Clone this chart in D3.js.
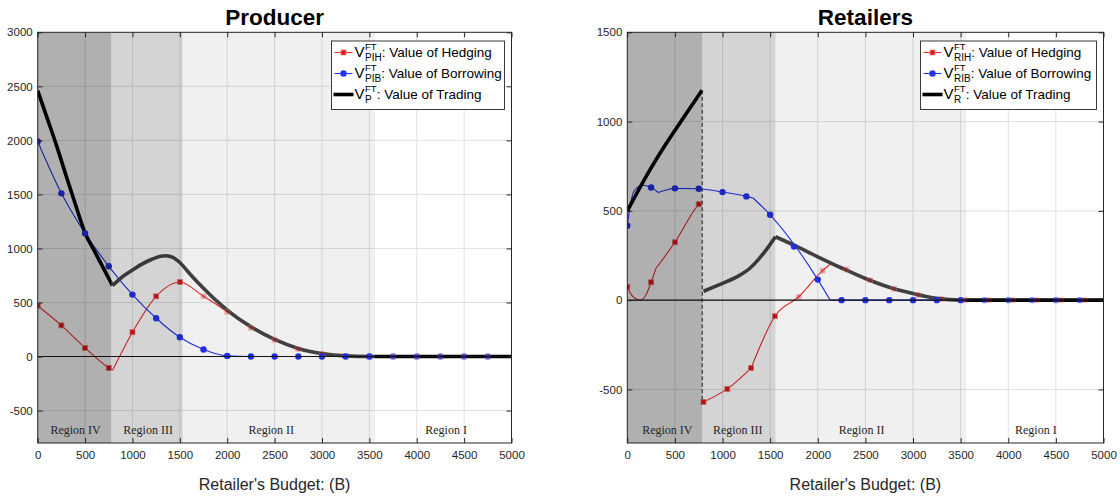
<!DOCTYPE html>
<html>
<head>
<meta charset="utf-8">
<script src="https://cdn.jsdelivr.net/npm/d3@7"></script>
<style>
	body { margin: 0; background: #fff; }
	svg { display: block; font-family: "Liberation Sans", Arial, sans-serif; }
</style>
</head>
<body>
<svg id="chart" width="1120" height="497"></svg>
<script>
(function(){

	//Axis ticks
	var budgetTicks = [0, 500, 1000, 1500, 2000, 2500, 3000, 3500, 4000, 4500, 5000];
	var producerTicks = [-500, 0, 500, 1000, 1500, 2000, 2500, 3000];
	var retailerTicks = [-500, 0, 500, 1000, 1500];

	//Regions (budget values where each region ends)
	var regionNames = ["Region IV", "Region III", "Region II", "Region I"];
	var producerRegionEdges = [0, 775, 1530, 3560, 5000];
	var retailerRegionEdges = [0, 785, 1555, 3560, 5000];
	var producerRegionLabelAt = [400, 1165, 2465, 4310];
	var retailerRegionLabelAt = [420, 1160, 2460, 4290];

	//Producer: value of hedging (segments split at kinks) and its markers
	var producerHedge = [
		[[0, 470], [250, 288], [500, 80], [750, -105], [790, -128]],
		[[790, -128], [1000, 225], [1250, 557], [1500, 690], [1750, 557], [2000, 415], [2250, 265],
		 [2500, 155], [2750, 68], [3000, 25], [3250, 5], [3500, 0], [3750, 0], [4000, 0], [4250, 0],
		 [4500, 0], [4750, 0], [5000, 0]]
	];
	var producerHedgeMarks = [[0, 470], [250, 288], [500, 80], [750, -105], [1000, 225], [1250, 557],
		[1500, 690], [1750, 557], [2000, 415], [2250, 265], [2500, 155], [2750, 68], [3000, 25],
		[3250, 5], [3500, 0], [3750, 0], [4000, 0], [4250, 0], [4500, 0], [4750, 0]];

	//Producer: value of borrowing
	var producerBorrow = [
		[[0, 1990], [250, 1510], [500, 1140], [750, 835], [1000, 573], [1250, 354], [1500, 178],
		 [1750, 65], [2000, 6], [2250, 0], [2500, 0], [2750, 0], [3000, 0], [3250, 0], [3500, 0],
		 [3750, 0], [4000, 0], [4250, 0], [4500, 0], [4750, 0], [5000, 0]]
	];
	var producerBorrowMarks = [[0, 1990], [250, 1510], [500, 1140], [750, 835], [1000, 573], [1250, 354],
		[1500, 178], [1750, 65], [2000, 6], [2250, 0], [2500, 0], [2750, 0], [3000, 0], [3250, 0],
		[3500, 0], [3750, 0], [4000, 0], [4250, 0], [4500, 0], [4750, 0]];

	//Producer: value of trading
	var producerTrade = [
		[[0, 2460], [100, 2206], [200, 1949], [300, 1673], [400, 1402], [500, 1143], [600, 974],
		 [700, 807], [790, 656]],
		[[790, 656], [850, 705], [900, 742], [1000, 800], [1100, 855], [1200, 898], [1300, 928],
		 [1350, 932], [1400, 925], [1450, 905], [1500, 870], [1600, 770], [1700, 675], [1800, 588],
		 [1900, 505], [2000, 430], [2250, 275], [2500, 158], [2750, 75], [3000, 28], [3250, 6],
		 [3500, 0], [5000, 0]]
	];

	//Retailers: value of hedging
	var retailerHedge = [
		[[0, 75], [46, 28], [100, 5], [141, 0], [185, 19], [250, 100], [300, 177]],
		[[300, 177], [500, 324], [750, 537], [785, 555]],
		[[800, -570], [1050, -497], [1300, -380]],
		[[1300, -380], [1550, -90], [1800, 19], [2050, 165], [2140, 205]],
		[[2140, 205], [2300, 172], [2550, 112], [2800, 64], [3050, 28], [3300, 7], [3550, 0], [5000, 0]]
	];
	var retailerHedgeMarks = [[0, 75], [250, 100], [500, 324], [750, 537], [800, -570], [1050, -497],
		[1300, -380], [1550, -90], [1800, 19], [2050, 165], [2300, 172], [2550, 112], [2800, 64],
		[3050, 28], [3300, 7], [3550, 0], [3800, 0], [4050, 0], [4300, 0], [4550, 0], [4800, 0]];

	//Retailers: value of borrowing
	var retailerBorrow = [
		[[0, 417], [28, 522], [70, 610], [150, 646]],
		[[150, 646], [250, 631], [325, 603]],
		[[325, 603], [400, 615], [500, 626], [750, 624], [1000, 605], [1250, 581], [1320, 572]],
		[[1320, 572], [1500, 478], [2000, 115], [2130, 0]],
		[[2130, 0], [5000, 0]]
	];
	var retailerBorrowMarks = [[0, 417], [250, 631], [500, 626], [750, 624], [1000, 605], [1250, 581],
		[1500, 478], [1750, 300], [2000, 115], [2250, 0], [2500, 0], [2750, 0], [3000, 0], [3250, 0],
		[3500, 0], [3750, 0], [4000, 0], [4250, 0], [4500, 0], [4750, 0]];

	//Retailers: value of trading (jumps at the Region IV / III border)
	var retailerTrade = [
		[[0, 500], [200, 695], [400, 870], [600, 1030], [785, 1175]],
		[[800, 50], [1000, 94], [1150, 130], [1290, 180], [1380, 230], [1470, 290], [1555, 355]],
		[[1555, 355], [1750, 308], [2000, 243], [2250, 180], [2500, 121], [2750, 72], [3000, 37],
		 [3250, 10], [3500, 0], [5000, 0]]
	];
	var retailerJump = [[787, 1175], [787, -570]];

	//Layout
	var plotTop = 32.3, plotBottom = 443;
	var redColor = "#ee2a2a", blueColor = "#2233ee";
	var shadeAlpha = [0.31, 0.17, 0.06, 0];
	var axisColor = "#262626";

	var svg = d3.select("#chart");
	var defs = svg.append("defs");

	var panels = [
		{title: "Producer", left: 37.7, right: 511.5, yDomain: [-800, 3000], yTicks: producerTicks,
		 edges: producerRegionEdges, labelAt: producerRegionLabelAt,
		 hedge: producerHedge, hedgeMarks: producerHedgeMarks,
		 borrow: producerBorrow, borrowMarks: producerBorrowMarks,
		 trade: producerTrade, jump: null, subs: ["PIH", "PIB", "P"], legendWidth: 173},
		{title: "Retailers", left: 627.3, right: 1103.5, yDomain: [-800, 1500], yTicks: retailerTicks,
		 edges: retailerRegionEdges, labelAt: retailerRegionLabelAt,
		 hedge: retailerHedge, hedgeMarks: retailerHedgeMarks,
		 borrow: retailerBorrow, borrowMarks: retailerBorrowMarks,
		 trade: retailerTrade, jump: retailerJump, subs: ["RIH", "RIB", "R"], legendWidth: 176}
	];

	panels.forEach(drawPanel);

	function drawPanel(p, idx){
		var x = d3.scaleLinear().domain([0, 5000]).range([p.left, p.right]);
		var y = d3.scaleLinear().domain(p.yDomain).range([plotBottom, plotTop]);
		var w = p.right - p.left, h = plotBottom - plotTop;

		defs.append("clipPath").attr("id", "clip" + idx)
			.append("rect").attr("x", p.left).attr("y", plotTop).attr("width", w).attr("height", h);

		var plot = svg.append("g").attr("clip-path", "url(#clip" + idx + ")");
		plot.append("rect").attr("x", p.left).attr("y", plotTop).attr("width", w).attr("height", h)
			.attr("fill", "#fff");

		//grid
		plot.selectAll(".gx").data(budgetTicks).enter().append("line")
			.attr("x1", function(d){ return x(d); }).attr("x2", function(d){ return x(d); })
			.attr("y1", plotTop).attr("y2", plotBottom)
			.attr("stroke", "#e1e1e1").attr("stroke-width", 1);
		plot.selectAll(".gy").data(p.yTicks).enter().append("line")
			.attr("y1", function(d){ return y(d); }).attr("y2", function(d){ return y(d); })
			.attr("x1", p.left).attr("x2", p.right)
			.attr("stroke", "#e1e1e1").attr("stroke-width", 1);

		var line = d3.line()
			.x(function(d){ return x(d[0]); })
			.y(function(d){ return y(d[1]); })
			.curve(d3.curveMonotoneX);

		plot.selectAll(".hedge").data(p.hedge).enter().append("path")
			.attr("d", line).attr("fill", "none")
			.attr("stroke", redColor).attr("stroke-width", 1.1);
		plot.selectAll(".borrow").data(p.borrow).enter().append("path")
			.attr("d", line).attr("fill", "none")
			.attr("stroke", blueColor).attr("stroke-width", 1.1);

		//trading line: black in Regions IV and I, dark grey in between
		var f1 = p.edges[1] / 5000, f3 = p.edges[3] / 5000;
		var grad = defs.append("linearGradient").attr("id", "tradeGrad" + idx)
			.attr("gradientUnits", "userSpaceOnUse")
			.attr("x1", x(0)).attr("x2", x(5000)).attr("y1", 0).attr("y2", 0);
		[[0, "#000"], [f1, "#000"], [f1, "#444"], [f3, "#444"], [f3, "#000"], [1, "#000"]]
			.forEach(function(s){
				grad.append("stop").attr("offset", s[0]).attr("stop-color", s[1]);
			});
		plot.selectAll(".trade").data(p.trade).enter().append("path")
			.attr("d", line).attr("fill", "none")
			.attr("stroke", "url(#tradeGrad" + idx + ")").attr("stroke-width", 3.6)
			.attr("stroke-linejoin", "round");

		//markers
		var ms = 5;
		plot.selectAll(".hmark").data(p.hedgeMarks).enter().append("rect")
			.attr("x", function(d){ return x(d[0]) - ms / 2; })
			.attr("y", function(d){ return y(d[1]) - ms / 2; })
			.attr("width", ms).attr("height", ms)
			.attr("fill", "#d81a1a").attr("stroke", "#f08080").attr("stroke-width", 0.8)
			.attr("opacity", function(d){ return d[0] > p.edges[2] ? 0.4 : 1; });
		plot.selectAll(".bmark").data(p.borrowMarks).enter().append("circle")
			.attr("cx", function(d){ return x(d[0]); })
			.attr("cy", function(d){ return y(d[1]); })
			.attr("r", 3.2)
			.attr("fill", blueColor)
			.attr("opacity", function(d){ return d[0] > p.edges[3] ? 0.6 : 1; });

		//region shading
		plot.selectAll(".shade").data(regionNames).enter().append("rect")
			.attr("x", function(d, i){ return x(p.edges[i]); })
			.attr("width", function(d, i){ return x(p.edges[i + 1]) - x(p.edges[i]); })
			.attr("y", plotTop).attr("height", h)
			.attr("fill", "#000")
			.attr("fill-opacity", function(d, i){ return shadeAlpha[i]; });

		//zero line
		plot.append("line").attr("x1", p.left).attr("x2", p.right)
			.attr("y1", y(0)).attr("y2", y(0))
			.attr("stroke", "#111").attr("stroke-width", 1.1);

		if(p.jump){
			plot.append("path")
				.attr("d", d3.line().x(function(d){ return x(d[0]); }).y(function(d){ return y(d[1]); })(p.jump))
				.attr("stroke", "#333").attr("stroke-width", 1.2)
				.attr("stroke-dasharray", "4,2.5").attr("fill", "none");
		}

		//region labels
		plot.selectAll(".rlabel").data(regionNames).enter().append("text")
			.attr("x", function(d, i){ return x(p.labelAt[i]); })
			.attr("y", 434)
			.attr("text-anchor", "middle")
			.attr("font-family", "'Liberation Serif', 'DejaVu Serif', serif")
			.attr("font-size", "12px")
			.attr("fill", axisColor)
			.text(function(d){ return d; });

		//axes (ticks inward on all four sides)
		var plain = function(d){ return String(d); };
		var axes = svg.append("g").attr("font-size", "11.5px");
		var bottomAxis = axes.append("g").attr("transform", "translate(0," + plotBottom + ")")
			.call(d3.axisBottom(x).tickValues(budgetTicks).tickSize(-5).tickPadding(8).tickFormat(plain));
		var topAxis = axes.append("g").attr("transform", "translate(0," + plotTop + ")")
			.call(d3.axisTop(x).tickValues(budgetTicks).tickSize(-5).tickFormat(""));
		var leftAxis = axes.append("g").attr("transform", "translate(" + p.left + ",0)")
			.call(d3.axisLeft(y).tickValues(p.yTicks).tickSize(-5).tickPadding(5).tickFormat(plain));
		var rightAxis = axes.append("g").attr("transform", "translate(" + p.right + ",0)")
			.call(d3.axisRight(y).tickValues(p.yTicks).tickSize(-5).tickFormat(""));
		[bottomAxis, topAxis, leftAxis, rightAxis].forEach(function(a){
			a.attr("font-family", null).attr("font-size", null);
			a.select(".domain").remove();
			a.selectAll(".tick line").attr("stroke", axisColor);
			a.selectAll(".tick text").attr("fill", axisColor);
		});
		axes.append("rect").attr("x", p.left).attr("y", plotTop).attr("width", w).attr("height", h)
			.attr("fill", "none").attr("stroke", axisColor).attr("stroke-width", 1);

		//title + x label
		svg.append("text").attr("x", (p.left + p.right) / 2).attr("y", 25)
			.attr("text-anchor", "middle").attr("font-size", "22.5px").attr("font-weight", "bold")
			.attr("fill", "#000").text(p.title);
		svg.append("text").attr("x", (p.left + p.right) / 2).attr("y", 490)
			.attr("text-anchor", "middle").attr("font-size", "16px")
			.attr("fill", axisColor).text("Retailer's Budget: (B)");

		drawLegend(p);
	}

	function drawLegend(p){
		var boxRight = p.right - 7, boxLeft = boxRight - p.legendWidth;
		var boxTop = 41, boxHeight = 68.5;
		var gl = svg.append("g").attr("font-size", "13.5px").attr("fill", "#000");
		gl.append("rect").attr("x", boxLeft).attr("y", boxTop).attr("width", boxRight - boxLeft)
			.attr("height", boxHeight).attr("fill", "#fff").attr("stroke", axisColor).attr("stroke-width", 0.9);

		var descs = ["Value of Hedging", "Value of Borrowing", "Value of Trading"];
		descs.forEach(function(desc, row){
			var yb = boxTop + 16 + row * 21;
			var cy = yb - 4.5;
			var x1 = boxLeft + 2, x2 = boxLeft + 22, cx = (x1 + x2) / 2;
			if(row === 2){
				gl.append("line").attr("x1", x1).attr("x2", x2).attr("y1", cy).attr("y2", cy)
					.attr("stroke", "#000").attr("stroke-width", 3.6);
			} else {
				var col = row === 0 ? redColor : blueColor;
				gl.append("line").attr("x1", x1 + 1).attr("x2", x2 - 1).attr("y1", cy).attr("y2", cy)
					.attr("stroke", col).attr("stroke-width", 1.1);
				if(row === 0){
					gl.append("rect").attr("x", cx - 2.5).attr("y", cy - 2.5).attr("width", 5).attr("height", 5)
						.attr("fill", "#d81a1a").attr("stroke", "#f08080").attr("stroke-width", 0.8);
				} else {
					gl.append("circle").attr("cx", cx).attr("cy", cy).attr("r", 3.2).attr("fill", blueColor);
				}
			}
			var tx = boxLeft + 23;
			var v = gl.append("text").attr("x", tx).attr("y", yb).attr("font-size", "15px").text("V");
			var vw = v.node().getComputedTextLength() + 0.5;
			var sup = gl.append("text").attr("x", tx + vw).attr("y", yb - 7.5).attr("font-size", "9.5px").text("FT");
			var sub = gl.append("text").attr("x", tx + vw).attr("y", yb + 3.5).attr("font-size", "10px").text(p.subs[row]);
			var sw = Math.max(sup.node().getComputedTextLength(), sub.node().getComputedTextLength());
			gl.append("text").attr("x", tx + vw + sw).attr("y", yb).text(": " + desc);
		});
	}

})();
</script>
</body>
</html>
